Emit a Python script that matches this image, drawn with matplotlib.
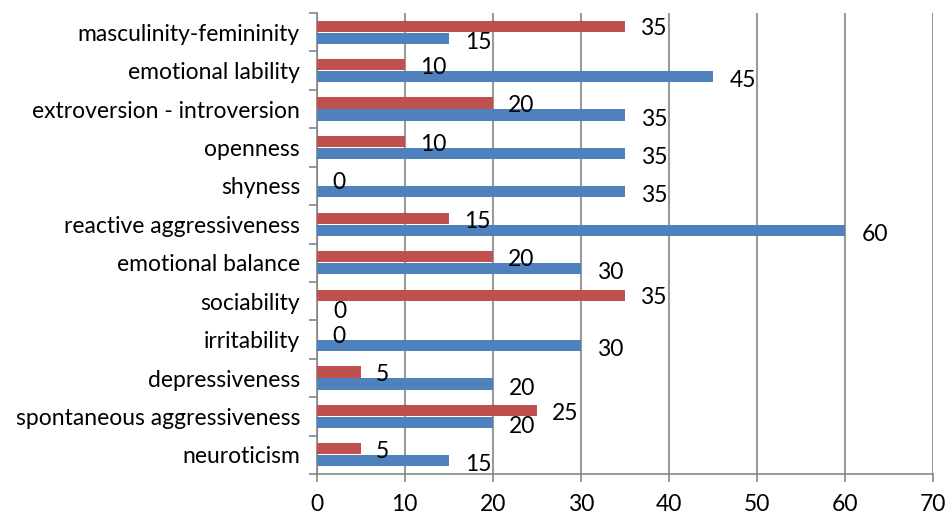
import numpy as np
import matplotlib
matplotlib.use("Agg")
import matplotlib.pyplot as plt

# categories listed bottom to top
categories = ["neuroticism", "spontaneous aggressiveness", "depressiveness",
              "irritability", "sociability", "emotional balance",
              "reactive aggressiveness", "shyness", "openness",
              "extroversion - introversion", "emotional lability",
              "masculinity-femininity"]
red_values = [5, 25, 5, 0, 35, 20, 15, 0, 10, 20, 10, 35]
blue_values = [15, 20, 20, 30, 0, 30, 60, 35, 35, 35, 45, 15]
x_ticks = [0, 10, 20, 30, 40, 50, 60, 70]

plt.rcParams['font.family'] = ['Lato', 'DejaVu Sans']
fs = 16.5

fig = plt.figure(figsize=(9.48, 5.17), dpi=100)
ax = fig.add_axes([0.334, 0.083, 0.65, 0.892])

y = np.arange(len(categories))
h = 0.29
off = 0.155
ax.barh(y + off, red_values, height=h, color="#C0504D", zorder=3)
ax.barh(y - off, blue_values, height=h, color="#4F81BD", zorder=3)

for yi, r, b in zip(y, red_values, blue_values):
    ax.annotate(str(r), (r, yi + off), xytext=(11, -2), textcoords="offset points",
                ha="left", va="center", fontsize=fs, zorder=4)
    ax.annotate(str(b), (b, yi - off), xytext=(12, -3), textcoords="offset points",
                ha="left", va="center", fontsize=fs, zorder=4)

ax.set_xlim(0, 70)
ax.set_ylim(-0.5, len(categories) - 0.5)
ax.set_xticks(x_ticks)
ax.set_xticklabels([str(t) for t in x_ticks], fontsize=fs)
ax.set_yticks(y)
ax.set_yticklabels(categories, fontsize=fs)
ax.set_yticks(np.arange(-0.5, len(categories), 1), minor=True)
ax.tick_params(axis="y", which="major", length=0, pad=12)
ax.tick_params(axis="y", which="minor", length=6, width=1.2, color="#868686", direction="out")
ax.tick_params(axis="x", length=6, width=1.2, color="#868686", pad=8)

ax.grid(axis="x", color="#9a9a9a", linewidth=1.5, zorder=0)
for s in ["top", "right"]:
    ax.spines[s].set_visible(False)
for s in ["left", "bottom"]:
    ax.spines[s].set_color("#868686")
    ax.spines[s].set_linewidth(1.2)

fig.savefig("out.png", dpi=100)
